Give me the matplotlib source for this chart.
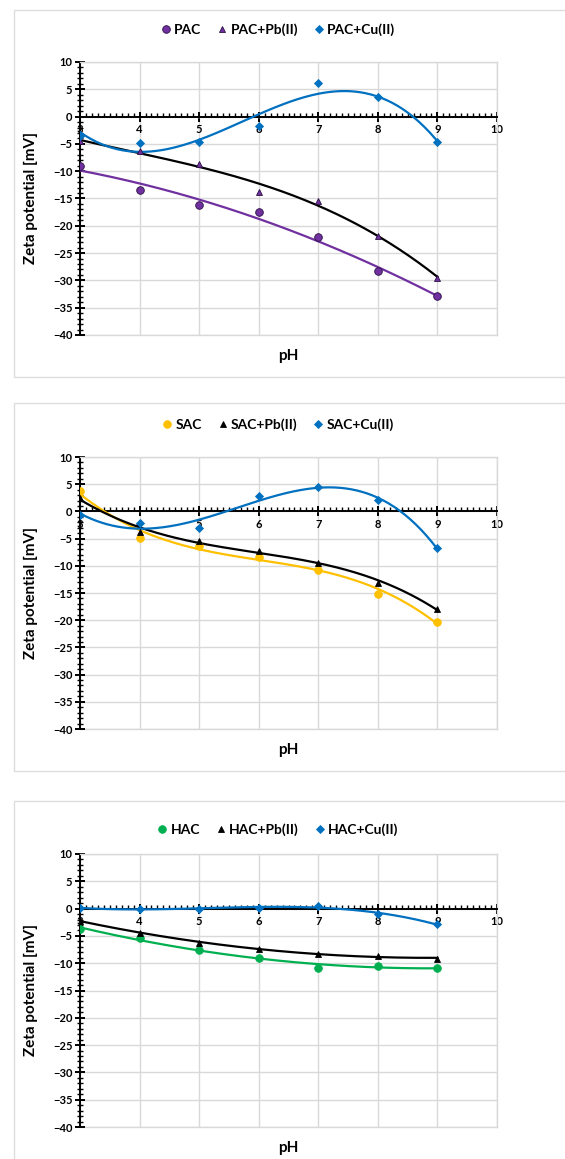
import matplotlib
matplotlib.use("Agg")
import matplotlib.pyplot as plt
import numpy as np
from matplotlib.lines import Line2D
from matplotlib.patches import Rectangle
from matplotlib.ticker import MultipleLocator

plt.rcParams["font.family"] = ["Lato", "DejaVu Sans"]
plt.rcParams["font.weight"] = "bold"

PH = [3, 4, 5, 6, 7, 8, 9]

PAC = [-9.0, -13.4, -16.2, -17.5, -22.1, -28.2, -32.9]
PAC_PB = [-4.5, -6.3, -8.7, -13.8, -15.4, -21.8, -29.5]
PAC_CU = [-3.5, -4.8, -4.6, -1.8, 6.1, 3.5, -4.7]

SAC = [3.7, -4.8, -6.3, -8.3, -10.8, -15.1, -20.3]
SAC_PB = [2.5, -3.8, -5.4, -7.2, -9.5, -13.2, -17.9]
SAC_CU = [-0.6, -2.2, -3.1, 2.9, 4.5, 2.1, -6.8]

HAC = [-3.7, -5.4, -7.6, -9.0, -10.8, -10.5, -10.9]
HAC_PB = [-2.2, -4.4, -6.3, -7.4, -8.3, -8.6, -9.2]
HAC_CU = [0.1, 0.0, -0.1, 0.2, 0.5, -1.0, -2.9]

PURPLE = "#7030A0"
BLUE = "#0070C0"
YELLOW = "#FFC000"
GREEN = "#00B050"
GRID = "#D9D9D9"

# (label, values, marker, face, edge, line colour, trend order)
PANELS = [
    [
        ("PAC", PAC, "o", PURPLE, "#2a1040", PURPLE, 2),
        ("PAC+Pb(II)", PAC_PB, "^", PURPLE, "#2a1040", "black", 3),
        ("PAC+Cu(II)", PAC_CU, "D", BLUE, BLUE, BLUE, 3),
    ],
    [
        ("SAC", SAC, "o", YELLOW, YELLOW, YELLOW, 3),
        ("SAC+Pb(II)", SAC_PB, "^", "black", "black", "black", 3),
        ("SAC+Cu(II)", SAC_CU, "D", BLUE, BLUE, BLUE, 4),
    ],
    [
        ("HAC", HAC, "o", GREEN, GREEN, GREEN, 2),
        ("HAC+Pb(II)", HAC_PB, "^", "black", "black", "black", 2),
        ("HAC+Cu(II)", HAC_CU, "D", BLUE, BLUE, BLUE, 3),
    ],
]
MARKER_SIZE = {"o": 5.5, "^": 5.0, "D": 3.8}

W, H = 565, 1159
AX_TOPS = [62, 457, 854]
AX_BOTTOMS = [335, 729, 1127]
FRAMES = [(10, 377), (403, 771), (801, 1170)]
LEGEND_Y = [30, 425, 830]


def draw_panel(fig, idx, series):
    top, bottom = AX_TOPS[idx], AX_BOTTOMS[idx]
    ax = fig.add_axes([80 / W, 1 - bottom / H, (497 - 80) / W, (bottom - top) / H])
    ax.set_xlim(3, 10)
    ax.set_ylim(-40, 10)

    for label, values, marker, face, edge, line, order in series:
        coef = np.polyfit(PH, values, order)
        xs = np.linspace(3, 9, 200)
        ax.plot(xs, np.polyval(coef, xs), color=line, lw=1.6, zorder=3)
        ax.plot(PH, values, ls="none", marker=marker, ms=MARKER_SIZE[marker],
                mfc=face, mec=edge, mew=0.6, zorder=4)

    ax.spines["bottom"].set_position(("data", 0))
    ax.spines["left"].set_position(("data", 3))
    for side in ["bottom", "left"]:
        ax.spines[side].set_linewidth(1.4)
        ax.spines[side].set_zorder(2.5)
    for side in ["top", "right"]:
        ax.spines[side].set_color(GRID)
        ax.spines[side].set_linewidth(1.0)
    ax.axhline(-40, color=GRID, lw=1.0, clip_on=False, zorder=0)

    ax.xaxis.set_major_locator(MultipleLocator(1))
    ax.xaxis.set_minor_locator(MultipleLocator(0.1))
    ax.yaxis.set_major_locator(MultipleLocator(5))
    ax.yaxis.set_minor_locator(MultipleLocator(1))
    ax.tick_params(which="major", direction="inout", length=7, width=1.4, labelsize=8, pad=2)
    ax.tick_params(which="minor", direction="inout", length=4, width=1.0)
    ax.tick_params(axis="x", which="minor", direction="in", length=3)
    for lab in ax.get_xticklabels() + ax.get_yticklabels():
        lab.set_fontweight("bold")
    ax.grid(True, which="major", color=GRID, lw=1.0, zorder=0)
    ax.set_axisbelow(True)

    ax.set_xlabel("pH", fontsize=11, fontweight="bold")
    ax.xaxis.set_label_coords(0.5, -0.05)
    ax.set_ylabel("Zeta potential [mV]", fontsize=11, fontweight="bold")
    ax.yaxis.set_label_coords(-0.1, 0.5)

    handles = [
        Line2D([], [], ls="none", marker=m, ms=MARKER_SIZE[m], mfc=f, mec=e, mew=0.6)
        for _, _, m, f, e, _, _ in series
    ]
    labels = [s[0] for s in series]
    fig.legend(handles, labels, loc="center", ncol=3, frameon=False,
               bbox_to_anchor=(277 / W, 1 - LEGEND_Y[idx] / H),
               prop={"size": 10, "weight": "bold"}, handletextpad=0.1,
               columnspacing=1.0, handlelength=1.0)

    y0, y1 = FRAMES[idx]
    fig.patches.append(Rectangle((14 / W, 1 - y1 / H), 1.0, (y1 - y0) / H,
                                 transform=fig.transFigure, fill=False,
                                 edgecolor="#DDDDDD", lw=1.0))


fig = plt.figure(figsize=(W / 100, H / 100), dpi=100)
for i, series in enumerate(PANELS):
    draw_panel(fig, i, series)
fig.savefig("out.png", dpi=100)
